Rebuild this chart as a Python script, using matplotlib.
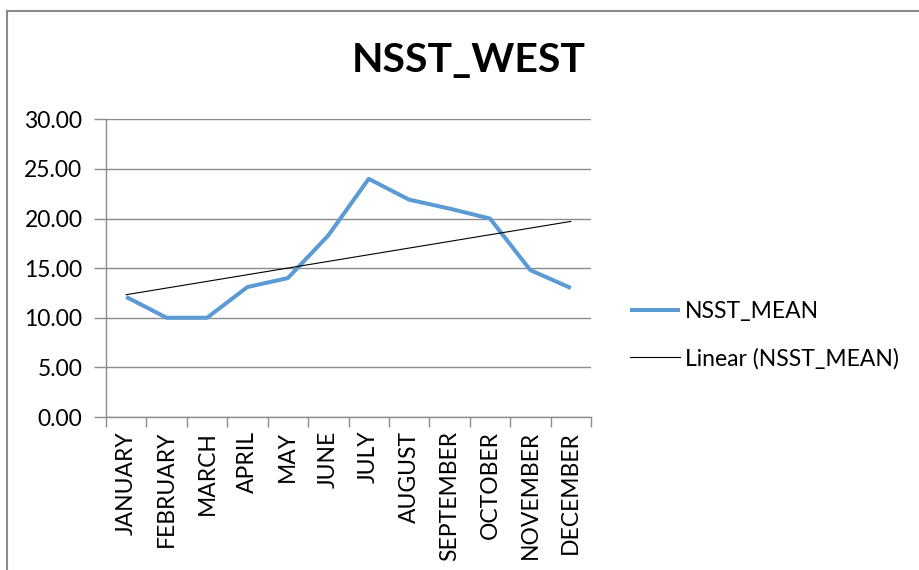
import numpy as np
import matplotlib
matplotlib.use("Agg")
import matplotlib.pyplot as plt
from matplotlib.lines import Line2D

plt.rcParams['font.family'] = ['Lato', 'DejaVu Sans']

months = ["JANUARY", "FEBRUARY", "MARCH", "APRIL", "MAY", "JUNE", "JULY",
          "AUGUST", "SEPTEMBER", "OCTOBER", "NOVEMBER", "DECEMBER"]
nsst_mean = [12.1, 10.0, 10.0, 13.1, 14.0, 18.3, 24.0, 21.9, 21.0, 20.0, 14.8, 13.0]
y_ticks = [0, 5, 10, 15, 20, 25, 30]
title = "NSST_WEST"

W, H = 919, 570
fig = plt.figure(figsize=(W / 100, H / 100), dpi=100)
ax = fig.add_axes([106 / W, 1 - 417 / H, (591 - 106) / W, (417 - 119.3) / H])

x = np.arange(len(months))
coef = np.polyfit(x, nsst_mean, 1)
trend = np.polyval(coef, x)

ax.plot(x, nsst_mean, color="#5B9BD5", lw=2.9, solid_joinstyle="round",
        solid_capstyle="butt", label="NSST_MEAN", zorder=3)
ax.plot(x, trend, color="black", lw=0.8, label="Linear (NSST_MEAN)", zorder=4)

ax.set_xlim(-0.5, len(months) - 0.5)
ax.set_ylim(0, 30)
ax.set_yticks(y_ticks)
ax.set_yticklabels([f"{v:.2f}" for v in y_ticks], fontsize=16.5)
ax.yaxis.grid(True, color="#8C8C8C", lw=1.0)
ax.set_axisbelow(True)

ax.set_xticks(x)
ax.set_xticklabels(months, rotation=90, fontsize=16.5)
ax.set_xticks(np.arange(-0.5, len(months)), minor=True)
ax.tick_params(axis="x", which="major", length=0, pad=10)
ax.tick_params(axis="x", which="minor", length=7, color="#8C8C8C", width=1.0)
ax.tick_params(axis="y", length=9, color="#8C8C8C", width=1.0, pad=8)

for s in ["top", "right"]:
    ax.spines[s].set_visible(False)
for s in ["left", "bottom"]:
    ax.spines[s].set_color("#8C8C8C")
    ax.spines[s].set_linewidth(1.0)

fig.text(469 / W, 1 - 60 / H, title, ha="center", va="center",
         fontsize=29.5, fontweight="bold")

leg = ax.legend(loc="center left", bbox_to_anchor=(630 / W, 1 - 335 / H),
                bbox_transform=fig.transFigure, frameon=False, fontsize=16.5,
                handlelength=2.2, handletextpad=0.2, labelspacing=1.15,
                borderpad=0, borderaxespad=0)

# chart frame
fig.add_artist(Line2D([7 / W, 7 / W], [0, 1 - 11 / H], transform=fig.transFigure,
                      color="#8C8C8C", lw=1.5))
fig.add_artist(Line2D([7 / W, 1], [1 - 11 / H, 1 - 11 / H], transform=fig.transFigure,
                      color="#8C8C8C", lw=1.5))

fig.savefig("out.png", dpi=100)
